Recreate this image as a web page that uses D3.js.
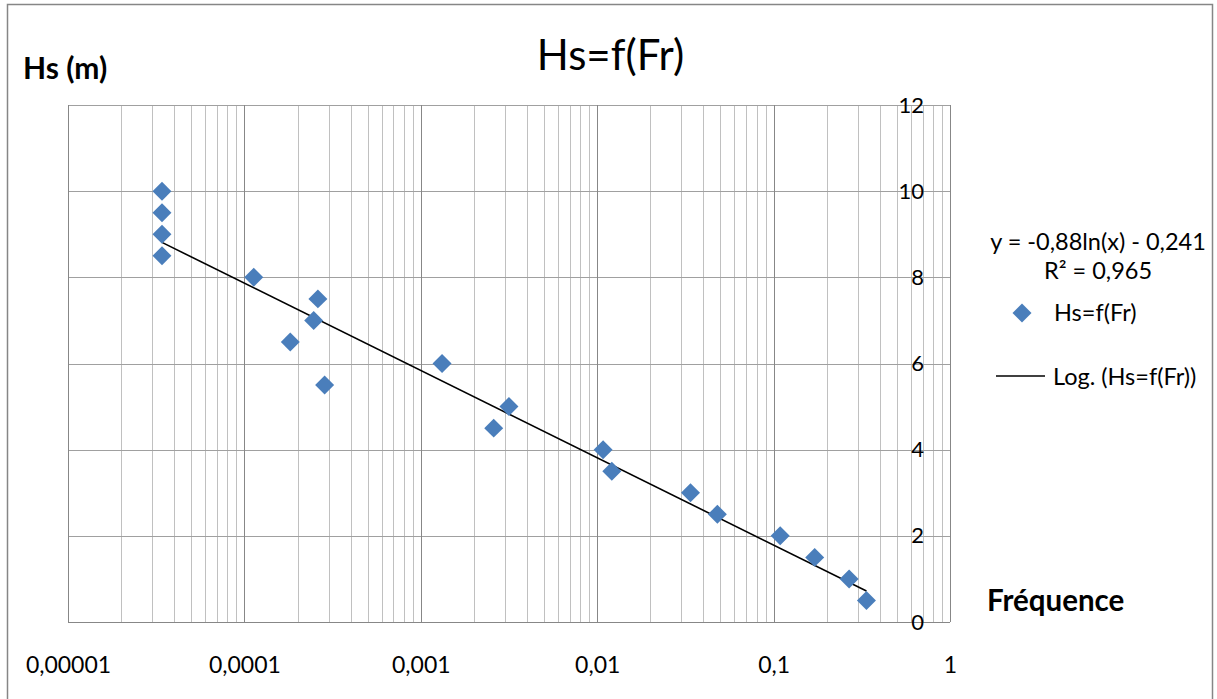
<!DOCTYPE html>
<html>
<head>
<meta charset="utf-8">
<script src="https://cdn.jsdelivr.net/npm/d3@7"></script>
<style>
  body { margin: 0; background: #fff; }
  svg text { font-family: Lato, "Open Sans", sans-serif; fill: #000; }
  .grid-major { stroke: #878787; stroke-width: 1; }
  .grid-minor { stroke: #c0c0c0; stroke-width: 1; }
  .grid-h { stroke: #a0a0a0; stroke-width: 1; }
  .axis .domain { display: none; }
  .axis line { display: none; }
</style>
</head>
<body>
<div id="chart"></div>
<script>
// Hs (m) vs frequency
const frequence = [
  0.0000341, 0.0000341, 0.0000341, 0.0000341,
  0.000113, 0.000182, 0.000247, 0.000261, 0.000285,
  0.00132, 0.00259, 0.00316,
  0.0108, 0.0121,
  0.0338, 0.048,
  0.109, 0.171, 0.268, 0.336
];
const hs = [
  10, 9.5, 9, 8.5,
  8, 6.5, 7, 7.5, 5.5,
  6, 4.5, 5,
  4, 3.5,
  3, 2.5,
  2, 1.5, 1, 0.5
];
const xTickValues = [0.00001, 0.0001, 0.001, 0.01, 0.1, 1];
const yTickValues = [0, 2, 4, 6, 8, 10, 12];
// log trendline y = a ln(x) + b
const trendCoef = [-0.88, -0.241];

const width = 1217, height = 699;
const plot = { left: 68, right: 950, top: 105, bottom: 622 };

const svg = d3.select("#chart").append("svg")
  .attr("width", width)
  .attr("height", height);

svg.append("rect")
  .attr("x", 7.5).attr("y", 4.5)
  .attr("width", 1205).attr("height", 700)
  .attr("fill", "none")
  .attr("stroke", "#868686")
  .attr("stroke-width", 1.5);

const x = d3.scaleLog().domain([0.00001, 1]).range([plot.left, plot.right]);
const y = d3.scaleLinear().domain([0, 12]).range([plot.bottom, plot.top]);

// minor vertical grid
const minor = [];
xTickValues.slice(0, -1).forEach(d => {
  for (let k = 2; k <= 9; k++) minor.push(d * k);
});
svg.append("g").selectAll("line").data(minor).join("line")
  .attr("class", "grid-minor")
  .attr("x1", d => Math.round(x(d)) + 0.5).attr("x2", d => Math.round(x(d)) + 0.5)
  .attr("y1", plot.top).attr("y2", plot.bottom);

svg.append("g").selectAll("line").data(yTickValues).join("line")
  .attr("class", "grid-h")
  .attr("x1", plot.left).attr("x2", plot.right)
  .attr("y1", d => Math.round(y(d)) + 0.5).attr("y2", d => Math.round(y(d)) + 0.5);

svg.append("g").selectAll("line").data(xTickValues).join("line")
  .attr("class", "grid-major")
  .attr("x1", d => Math.round(x(d)) + 0.5).attr("x2", d => Math.round(x(d)) + 0.5)
  .attr("y1", plot.top).attr("y2", plot.bottom);

svg.append("line")
  .attr("class", "grid-major")
  .attr("x1", plot.left).attr("x2", plot.right)
  .attr("y1", plot.bottom + 0.5).attr("y2", plot.bottom + 0.5);

// axes
const fmtX = d => String(d.toFixed(Math.max(0, -Math.round(Math.log10(d))))).replace(".", ",");
svg.append("g")
  .attr("class", "axis")
  .attr("transform", `translate(0,${plot.bottom})`)
  .call(d3.axisBottom(x).tickValues(xTickValues).tickFormat(fmtX).tickSize(0).tickPadding(35))
  .selectAll("text").attr("font-size", 23).style("font-family", "Lato, sans-serif");

svg.append("g")
  .attr("class", "axis")
  .attr("transform", `translate(${plot.right},0)`)
  .call(d3.axisLeft(y).tickValues(yTickValues).tickSize(0).tickPadding(26))
  .selectAll("text").attr("font-size", 22).style("font-family", "Lato, sans-serif");

// trendline
const xs = d3.extent(frequence);
const trendPts = [xs[0], xs[1]].map(v => [v, trendCoef[0] * Math.log(v) + trendCoef[1]]);
svg.append("path")
  .datum(trendPts)
  .attr("fill", "none")
  .attr("stroke", "#000")
  .attr("stroke-width", 1.6)
  .attr("d", d3.line().x(d => x(d[0])).y(d => y(d[1])));

// points
const diamond = d3.symbol().type(d3.symbolSquare).size(180);
const pts = frequence.map((f, i) => ({ f, h: hs[i] }));
svg.append("g").selectAll("path").data(pts).join("path")
  .attr("d", diamond)
  .attr("fill", "#4a7ebb")
  .attr("transform", d => `translate(${x(d.f)},${y(d.h)}) rotate(45)`);

// titles
svg.append("text")
  .attr("x", 610.5).attr("y", 70)
  .attr("text-anchor", "middle")
  .attr("font-size", 42)
  .text("Hs=f(Fr)");

svg.append("text")
  .attr("x", 23).attr("y", 79)
  .attr("font-size", 30).attr("font-weight", "bold")
  .text("Hs (m)");

svg.append("text")
  .attr("x", 987).attr("y", 611)
  .attr("font-size", 29.5).attr("font-weight", "bold")
  .text("Fréquence");

// legend
svg.append("text")
  .attr("x", 1098).attr("y", 250)
  .attr("text-anchor", "middle")
  .attr("font-size", 23.5)
  .text("y = -0,88ln(x) - 0,241");
svg.append("text")
  .attr("x", 1098).attr("y", 279)
  .attr("text-anchor", "middle")
  .attr("font-size", 23.5)
  .text("R² = 0,965");

svg.append("path")
  .attr("d", diamond)
  .attr("fill", "#4a7ebb")
  .attr("transform", "translate(1022,313) rotate(45)");
svg.append("text")
  .attr("x", 1054).attr("y", 321)
  .attr("font-size", 23.5)
  .text("Hs=f(Fr)");

svg.append("line")
  .attr("x1", 996).attr("x2", 1045)
  .attr("y1", 376).attr("y2", 376)
  .attr("stroke", "#000").attr("stroke-width", 1.3);
svg.append("text")
  .attr("x", 1053).attr("y", 385)
  .attr("font-size", 23.5)
  .text("Log. (Hs=f(Fr))");
</script>
</body>
</html>
